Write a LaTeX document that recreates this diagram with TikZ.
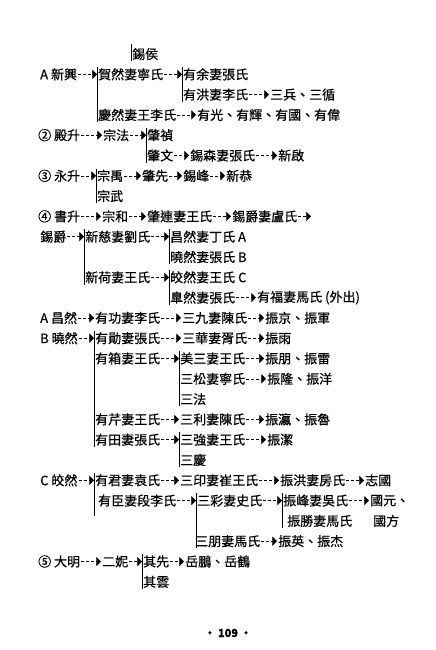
\documentclass[tikz,border=0pt]{standalone}
\usepackage{fontspec}
\setmainfont{Noto Sans CJK TC}[FakeBold=0.6]
\usepackage{tikz}
\usetikzlibrary{arrows,calc,positioning}

\tikzset{
  person/.style={anchor=west, inner sep=1pt, font=\fontsize{13}{15}\selectfont},
  link/.style={densely dashed, -triangle 90, line width=0.6pt},
  rail/.style={line width=1pt}
}

\begin{document}
\begin{tikzpicture}[x=1pt,y=-1pt]
\useasboundingbox (0,0) rectangle (436,650);

\node[person] (xh) at (131,54) {錫侯}; \draw[rail] ([yshift=3pt]xh.north west) -- (xh.south west);

\node[person] (xx) at (39,74.3) {A 新興}; \node[person] (hr) at (97,74.3) {賀然妻寧氏}; \node[person] (yy) at (182,74.3) {有余妻張氏};
\node[person] (yh) at (182,94.6) {有洪妻李氏}; \node[person] (sb) at (269,94.6) {三兵、三循};
\node[person] (qr) at (97,114.9) {慶然妻王李氏}; \node[person] (yg) at (196,114.9) {有光、有輝、有國、有偉};
\draw[rail] (hr.north west) -- (qr.south west); \draw[rail] (yy.north west) -- (yh.south west);
\draw[link] (xx.east) -- (xx.east -| hr.west); \draw[link] (hr.east) -- (hr.east -| yy.west);
\draw[link] (yh.east) -- (sb.west); \draw[link] (qr.east) -- (yg.west);

\node[person] (es) at (37,135.2) {② 殿升}; \node[person] (zf) at (102,135.2) {宗法}; \node[person] (zz) at (146,135.2) {肇禎};
\node[person] (zw) at (146,155.5) {肇文}; \node[person] (xs) at (189,155.5) {錫森妻張氏}; \node[person] (xq) at (277,155.5) {新啟};
\draw[rail] (zz.north west) -- (zw.south west);
\draw[link] (es.east) -- (zf.west); \draw[link] (zf.east) -- (zf.east -| zz.west);
\draw[link] (zw.east) -- (xs.west); \draw[link] (xs.east) -- (xq.west);

\node[person] (ys) at (37,175.8) {③ 永升}; \node[person] (zy) at (96,175.8) {宗禹}; \node[person] (zx) at (141,175.8) {肇先};
\node[person] (xf) at (182,175.8) {錫峰}; \node[person] (xg) at (225,175.8) {新恭};
\node[person] (zwu) at (96,196.1) {宗武};
\draw[rail] (zy.north west) -- (zwu.south west);
\draw[link] (ys.east) -- (ys.east -| zy.west); \draw[link] (zy.east) -- (zx.west);
\draw[link] (zx.east) -- (xf.west); \draw[link] (xf.east) -- (xg.west);

\node[person] (ss) at (37,216.4) {④ 書升}; \node[person] (zh) at (101,216.4) {宗和}; \node[person] (zl) at (146,216.4) {肇連妻王氏};
\node[person] (xj) at (231,216.4) {錫爵妻盧氏}; \coordinate (xjend) at (311,216.4);
\draw[link] (ss.east) -- (zh.west); \draw[link] (zh.east) -- (zl.west);
\draw[link] (zl.east) -- (xj.west); \draw[link] (xj.east) -- (xjend);

\node[person] (xjb) at (39,236.7) {錫爵}; \node[person] (xc) at (84,236.7) {新慈妻劉氏}; \node[person] (cr) at (169,236.7) {昌然妻丁氏 A};
\node[person] (xr) at (169,257) {曉然妻張氏 B};
\node[person] (xhe) at (84,277.3) {新荷妻王氏}; \node[person] (jr) at (169,277.3) {皎然妻王氏 C};
\node[person] (gr) at (169,297.6) {臯然妻張氏}; \node[person] (yf) at (256,297.6) {有福妻馬氏 (外出)};
\draw[rail] (xc.north west) -- (xhe.south west); \draw[rail] (cr.north west) -- (xr.south west);
\draw[rail] (jr.north west) -- (gr.south west);
\draw[link] (xjb.east) -- (xjb.east -| xc.west); \draw[link] (xc.east) -- (xc.east -| cr.west);
\draw[link] (xhe.east) -- (xhe.east -| jr.west); \draw[link] (gr.east) -- (yf.west);

\node[person] (ac) at (39,317.9) {A 昌然}; \node[person] (ygo) at (94,317.9) {有功妻李氏};
\node[person] (sj) at (181,317.9) {三九妻陳氏}; \node[person] (zj) at (264,317.9) {振京、振軍};
\draw[link] (ac.east) -- (ygo.west); \draw[link] (ygo.east) -- (sj.west); \draw[link] (sj.east) -- (zj.west);

\node[person] (bx) at (39,338.2) {B 曉然}; \node[person] (yx) at (94,338.2) {有勛妻張氏};
\node[person] (sh) at (181,338.2) {三華妻胥氏}; \node[person] (zyu) at (264,338.2) {振雨};
\node[person] (yxi) at (94,358.5) {有箱妻王氏}; \node[person] (ms) at (179,358.5) {美三妻王氏}; \node[person] (zp) at (264,358.5) {振朋、振雷};
\node[person] (sso) at (179,378.8) {三松妻寧氏}; \node[person] (zlo) at (266,378.8) {振隆、振洋};
\node[person] (sf) at (179,399.1) {三法};
\node[person] (yq) at (94,419.4) {有芹妻王氏}; \node[person] (sl) at (179,419.4) {三利妻陳氏}; \node[person] (zyi) at (264,419.4) {振瀛、振魯};
\node[person] (yt) at (94,439.7) {有田妻張氏}; \node[person] (sq) at (179,439.7) {三強妻王氏}; \node[person] (zje) at (266,439.7) {振潔};
\node[person] (sqi) at (179,460) {三慶};
\draw[rail] (yx.north west) -- (yt.south west); \draw[rail] (ms.north west) -- (sf.south west);
\draw[rail] (sq.north west) -- (sqi.south west);
\draw[link] (bx.east) -- (yx.west); \draw[link] (yx.east) -- (sh.west); \draw[link] (sh.east) -- (zyu.west);
\draw[link] (yxi.east) -- (yxi.east -| ms.west); \draw[link] (ms.east) -- (zp.west); \draw[link] (sso.east) -- (zlo.west);
\draw[link] (yq.east) -- (sl.west); \draw[link] (sl.east) -- (zyi.west);
\draw[link] (yt.east) -- (yt.east -| sq.west); \draw[link] (sq.east) -- (zje.west);

\node[person] (cj) at (39,480.3) {C 皎然}; \node[person] (yj) at (94,480.3) {有君妻袁氏}; \node[person] (sy) at (179,480.3) {三印妻崔王氏};
\node[person] (zho) at (279,480.3) {振洪妻房氏}; \node[person] (zg) at (364,480.3) {志國};
\node[person] (yc) at (97,500.6) {有臣妻段李氏}; \node[person] (sc) at (196,500.6) {三彩妻史氏};
\node[person] (zfe) at (282,500.6) {振峰妻吳氏}; \node[person] (gy) at (369,500.6) {國元、};
\node[person] (zs) at (286,520.9) {振勝妻馬氏}; \node[person] (gf) at (372,520.9) {國方};
\node[person] (sp) at (194,541.2) {三朋妻馬氏}; \node[person] (zyn) at (277,541.2) {振英、振杰};
\draw[rail] (yj.north west) -- ($(yj.west |- yc.south)+(0,8)$); \draw[rail] (sc.north west) -- (sc.west |- sp.south);
\draw[rail] (zfe.north west) -- (zfe.west |- zs.south);
\draw[link] (cj.east) -- (cj.east -| yj.west); \draw[link] (yj.east) -- (sy.west);
\draw[link] (sy.east) -- (zho.west); \draw[link] (zho.east) -- (zg.west);
\draw[link] (yc.east) -- (yc.east -| sc.west); \draw[link] (sc.east) -- (sc.east -| zfe.west);
\draw[link] (zfe.east) -- (gy.west); \draw[link] (sp.east) -- (zyn.west);

\node[person] (dm) at (37,561.5) {⑤ 大明}; \node[person] (en) at (101,561.5) {二妮}; \node[person] (qx) at (142,561.5) {其先};
\node[person] (yp) at (184,561.5) {岳鵬、岳鶴}; \node[person] (qy) at (142,581.8) {其雲};
\draw[rail] (qx.north west) -- (qy.south west);
\draw[link] (dm.east) -- (en.west); \draw[link] (en.east) -- (en.east -| qx.west); \draw[link] (qx.east) -- (yp.west);

\node[font=\fontsize{11}{13}\selectfont\bfseries] (pg) at (228,633) {· 109 ·};
\end{tikzpicture}
\end{document}
